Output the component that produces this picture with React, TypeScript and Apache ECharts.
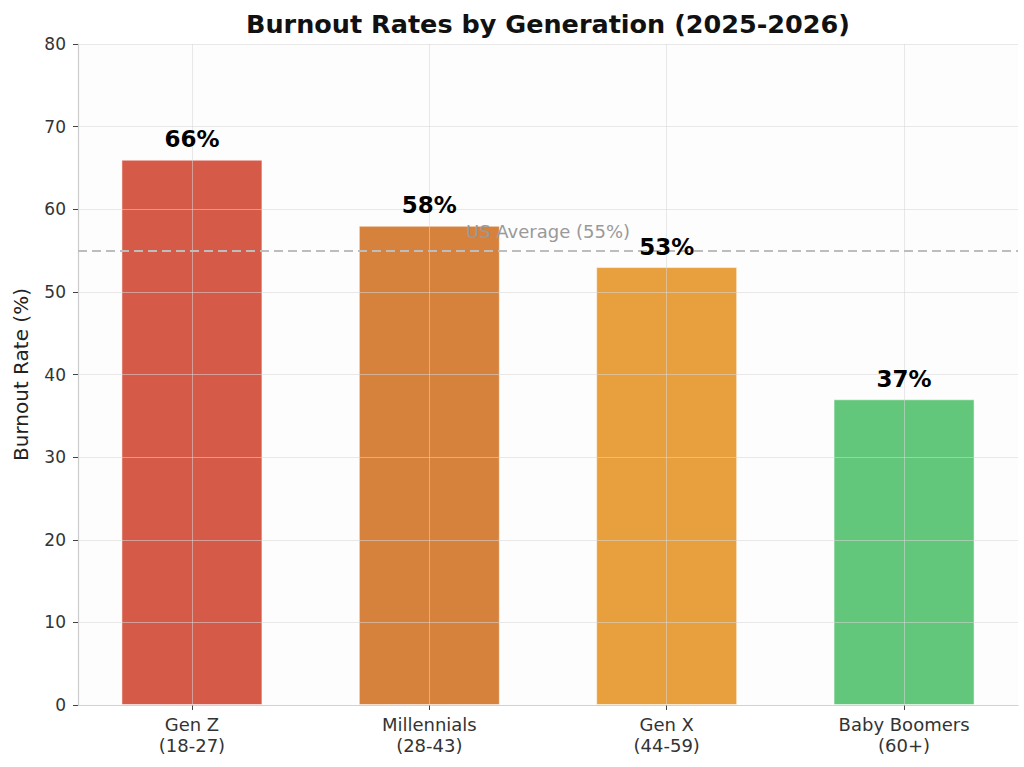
import React, { useEffect, useRef } from "react";
import * as echarts from "echarts";

const categories = ["Gen Z\n(18-27)", "Millennials\n(28-43)", "Gen X\n(44-59)", "Baby Boomers\n(60+)"];
const burnoutRates = [66, 58, 53, 37];
const barColors = ["#d65a48", "#d6823c", "#e8a03e", "#62c77a"];
const usAverage = 55;
const yTicks = [0, 10, 20, 30, 40, 50, 60, 70, 80];
const xPositions = [0, 1, 2, 3];

const FONT = "DejaVu Sans";

export default function App() {
  const ref = useRef<HTMLDivElement>(null);

  useEffect(() => {
    if (!ref.current) return;
    const chart = echarts.init(ref.current, null, { renderer: "svg" });

    const gridColor = "rgba(215,215,215,0.55)";
    const gridLines = [
      ...yTicks.map((v) => ({ yAxis: v })),
      ...xPositions.map((v) => ({ xAxis: v })),
    ];

    chart.setOption({
      animation: false,
      backgroundColor: "#ffffff",
      textStyle: { fontFamily: FONT },
      title: {
        text: "Burnout Rates by Generation (2025-2026)",
        left: 543,
        textAlign: "center",
        top: 6,
        textStyle: { fontFamily: FONT, fontSize: 25.5, fontWeight: "bold", color: "#111" },
      },
      grid: {
        left: 78,
        right: 6,
        top: 44,
        bottom: 62,
        show: true,
        backgroundColor: "#fdfdfd",
        borderWidth: 0,
      },
      xAxis: {
        type: "value",
        min: -0.48,
        max: 3.48,
        splitLine: { show: false },
        axisLine: { show: true, onZero: false, lineStyle: { color: "#cccccc", width: 1.2 } },
        axisTick: {
          show: true,
          length: 5,
          customValues: xPositions,
          lineStyle: { color: "#444", width: 1 },
        },
        axisLabel: {
          customValues: xPositions,
          formatter: (v: number) => categories[Math.round(v)] ?? "",
          fontFamily: FONT,
          fontSize: 18,
          lineHeight: 21,
          color: "#333",
          margin: 9,
        },
      },
      yAxis: {
        type: "value",
        min: 0,
        max: 80,
        interval: 10,
        name: "Burnout Rate (%)",
        nameLocation: "middle",
        nameRotate: 90,
        nameGap: 47,
        nameTextStyle: { fontFamily: FONT, fontSize: 20, color: "#222" },
        splitLine: { show: false },
        axisLine: { show: true, onZero: false, lineStyle: { color: "#cccccc", width: 1.2 } },
        axisTick: { show: true, length: 5, lineStyle: { color: "#444", width: 1 } },
        axisLabel: { fontFamily: FONT, fontSize: 17, color: "#333", margin: 12 },
      },
      series: [
        {
          type: "bar",
          z: 2,
          barWidth: 141,
          data: burnoutRates.map((v, i) => ({
            value: [xPositions[i], v],
            itemStyle: { color: barColors[i] },
          })),
          itemStyle: { borderColor: "rgba(255,255,255,0.5)", borderWidth: 1 },
          label: { show: false },
          emphasis: { disabled: true },
        },
        {
          type: "line",
          z: 3,
          data: [],
          silent: true,
          markLine: {
            silent: true,
            symbol: ["none", "none"],
            label: { show: false },
            lineStyle: { color: gridColor, width: 1, type: "solid" },
            emphasis: { disabled: true },
            data: gridLines,
          },
        },
        {
          type: "line",
          z: 4,
          data: [],
          silent: true,
          markLine: {
            silent: true,
            symbol: ["none", "none"],
            lineStyle: { color: "#bdbdbd", width: 2, type: [9, 5] },
            label: {
              show: true,
              position: "insideMiddleTop",
              distance: 10,
              formatter: `US Average (${usAverage}%)`,
              fontFamily: FONT,
              fontSize: 18,
              color: "#999999",
              textBorderWidth: 0,
            },
            emphasis: { disabled: true },
            data: [{ yAxis: usAverage }],
          },
        },
        {
          type: "scatter",
          z: 6,
          silent: true,
          symbolSize: 0,
          itemStyle: { opacity: 1, color: "#000" },
          data: burnoutRates.map((v, i) => [xPositions[i], v]),
          label: {
            show: true,
            position: "top",
            distance: 9,
            formatter: (p: any) => `${p.value[1]}%`,
            fontFamily: FONT,
            fontSize: 23,
            fontWeight: "bold",
            color: "#000",
            opacity: 1,
            textBorderWidth: 0,
          },
          emphasis: { disabled: true },
        },
      ],
    });

    return () => chart.dispose();
  }, []);

  return <div ref={ref} style={{ width: 1024, height: 767, position: "absolute", left: 0, top: 0 }} />;
}
